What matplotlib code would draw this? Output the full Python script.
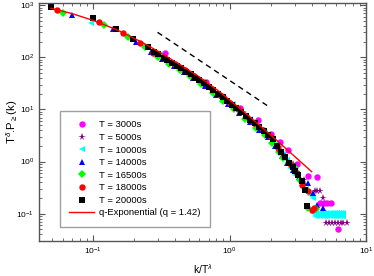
import matplotlib
matplotlib.use("Agg")
import matplotlib.pyplot as plt

plt.rcParams['font.family'] = ['Liberation Sans', 'DejaVu Sans']
plt.rcParams['mathtext.fontset'] = 'custom'
plt.rcParams['mathtext.rm'] = 'Liberation Sans'
plt.rcParams['mathtext.it'] = 'Liberation Sans:italic'
plt.rcParams['mathtext.bf'] = 'Liberation Sans:bold'

# ---- data ----
mag_x = [0.333, 0.45, 0.674, 0.9, 1.2, 1.61, 2.02, 2.33, 2.69, 3.1, 3.76, 4.34, 4.6, 4.9, 5.2, 5.5, 6.25]
mag_y = [119, 60, 34, 17, 10.5, 6.2, 3.4, 2.35, 1.65, 0.9, 0.54, 0.5, 0.16, 0.16, 0.16, 0.16, 0.051]

star_x = [0.3, 0.45, 0.65, 0.9, 1.25, 1.7, 2.3, 2.9, 3.5, 4.2, 4.4, 4.6, 4.85, 5.1, 5.35, 5.6, 5.9, 6.2, 6.5, 6.8, 7.2]
star_y = [105, 58, 30, 17, 9, 4.5, 1.9, 0.9, 0.45, 0.27, 0.27, 0.27, 0.2, 0.066, 0.066, 0.066, 0.066, 0.066, 0.066, 0.066, 0.066]

cyan_x = [0.097, 0.31, 0.42, 0.58, 0.78, 1.05, 1.4, 1.8, 2.2, 2.45, 2.61, 2.76, 3.0, 3.3, 3.6, 3.87, 4.1,
          4.1, 4.3, 4.5, 4.7, 4.9, 5.1, 5.3, 5.5, 5.7, 5.9, 6.1, 6.3, 6.5, 6.8,
          4.2, 4.4, 4.6, 4.8, 5.0, 5.2, 5.4, 5.6, 5.8, 6.0, 6.2, 6.4, 6.6, 6.8]
cyan_y = [465, 110, 66, 38, 21, 12.5, 6.5, 3.6, 2.2, 1.4, 1.09, 0.76, 0.55, 0.4, 0.3, 0.23, 0.2,
          0.105, 0.105, 0.105, 0.105, 0.105, 0.105, 0.105, 0.105, 0.105, 0.105, 0.105, 0.105, 0.105, 0.105,
          0.09, 0.09, 0.09, 0.09, 0.09, 0.09, 0.09, 0.09, 0.09, 0.09, 0.09, 0.09, 0.09, 0.09]

blue_x = [0.0705, 0.140, 0.206, 0.265, 0.32, 0.39, 0.46, 0.54, 0.66, 0.8, 0.98, 1.18, 1.4, 1.65, 1.9,
          2.15, 2.4, 2.65, 2.9, 3.2, 3.5, 3.76, 4.1, 4.34, 4.85]
blue_y = [650, 356, 197, 124, 94, 68, 52, 40, 28, 19.3, 12.7, 8.5, 5.8, 4.0, 2.9,
          2.0, 1.3, 0.95, 0.7, 0.5, 0.38, 0.39, 0.25, 0.149, 0.128]

green_x = [0.0598, 0.119, 0.180, 0.241, 0.297, 0.36, 0.43, 0.51, 0.62, 0.75, 0.9, 1.08, 1.3, 1.55, 1.8,
           2.05, 2.3, 2.46, 2.7, 3.0, 3.3, 3.76, 4.3]
green_y = [702, 417, 250, 158, 103, 76, 57, 43, 31, 21, 14.8, 10, 6.7, 4.5, 3.2,
           2.3, 1.5, 1.18, 0.95, 0.76, 0.45, 0.13, 0.125]

red_x = [0.0547, 0.111, 0.164, 0.222, 0.273, 0.333, 0.40, 0.47, 0.55, 0.64, 0.74, 0.86, 1.0, 1.15, 1.32,
         1.52, 1.75, 2.0, 2.25, 2.5, 2.8, 3.09, 3.37, 3.76, 3.99, 4.15]
red_y = [800, 478, 290, 186, 123, 91, 73, 56, 43, 33, 25, 18.5, 13.5, 10, 7.5,
         5.5, 4.0, 2.9, 1.8, 1.3, 0.85, 0.6, 0.36, 0.27, 0.12, 0.13]

black_x = [0.049, 0.099, 0.148, 0.197, 0.251, 0.28, 0.30, 0.33, 0.35, 0.38, 0.41, 0.44, 0.48, 0.52, 0.56,
           0.60, 0.65, 0.70, 0.76, 0.82, 0.89, 0.96, 1.04, 1.12, 1.21, 1.31, 1.42, 1.53, 1.65, 1.78,
           1.92, 2.07, 2.22, 2.38, 2.55, 2.73, 2.9, 3.0, 3.18, 3.37, 3.56, 3.66]
black_y = [915, 562, 345, 222, 155, 126, 114, 98, 89, 78, 69, 62, 53, 47, 41,
           37, 32, 27.5, 23.5, 20, 17.2, 14.6, 12.3, 10.5, 8.9, 7.5, 6.3, 5.4, 4.6, 3.9,
           3.2, 2.7, 2.0, 1.5, 1.25, 0.95, 0.8, 0.65, 0.55, 0.42, 0.28, 0.14]

fit_x = [0.049, 0.07, 0.1, 0.15, 0.218, 0.3, 0.43, 0.6, 0.85, 1.33, 2.2, 3.99]
fit_y = [875, 690, 510, 335, 206, 130, 73, 42, 21.5, 8.2, 2.58, 0.64]

guide_x = [0.296, 1.88]
guide_y = [302, 11.9]

series = [
    (mag_x, mag_y, 'o', '#ff00ff', 'T = 3000s'),
    (star_x, star_y, '*', '#7f007f', 'T = 5000s'),
    (cyan_x, cyan_y, '<', '#00ffff', 'T = 10000s'),
    (blue_x, blue_y, '^', '#0000ff', 'T = 14000s'),
    (green_x, green_y, 'D', '#00ff00', 'T = 16500s'),
    (red_x, red_y, 'o', '#ff0000', 'T = 18000s'),
    (black_x, black_y, 's', '#000000', 'T = 20000s'),
]
fit_label = 'q-Exponential (q = 1.42)'

fig = plt.figure(figsize=(3.74, 2.76), dpi=100)
ax = fig.add_axes([0.104, 0.127, 0.875, 0.862])
ax.set_xscale('log')
ax.set_yscale('log')

for xs, ys, m, c, lab in series:
    ms = 4.6
    if m == '*':
        ms = 5.4
    elif m == 'D':
        ms = 4.0
    elif m == 's':
        ms = 4.4
    ax.plot(xs, ys, linestyle='none', marker=m, color=c, markersize=ms,
            markeredgewidth=0, label=lab)
ax.plot(fit_x, fit_y, color='#ff0000', lw=1.0, label=fit_label, zorder=5)
ax.plot(guide_x, guide_y, color='black', lw=1.0, linestyle=(0, (4, 3)), zorder=5)

ax.set_xlim(0.04, 10)
ax.set_ylim(0.03, 1100)

for s in ax.spines.values():
    s.set_color('#555555')
    s.set_linewidth(1.0)
ax.tick_params(which='both', direction='in', top=True, right=True, colors='#555555',
               labelcolor='black', labelsize=6)
ax.tick_params(which='major', length=4, width=0.8)
ax.tick_params(which='minor', length=2, width=0.6)

ax.set_xlabel(r'k/T$^{\lambda}$', fontsize=7.5)
ax.set_ylabel(r'T$^{\delta}$.P$_{\geq}$(k)', fontsize=8.2)
ax.xaxis.set_label_coords(0.5, -0.09)
ax.yaxis.set_label_coords(-0.058, 0.5)

leg = ax.legend(loc='lower left', bbox_to_anchor=(0.064, 0.059), borderaxespad=0,
                fontsize=6.8, frameon=True, fancybox=False, edgecolor='#888888',
                handlelength=2.6, handletextpad=0.5, labelspacing=0.38, borderpad=1.0,
                numpoints=1)
leg.get_frame().set_linewidth(1.0)

fig.savefig('out.png', dpi=100)
